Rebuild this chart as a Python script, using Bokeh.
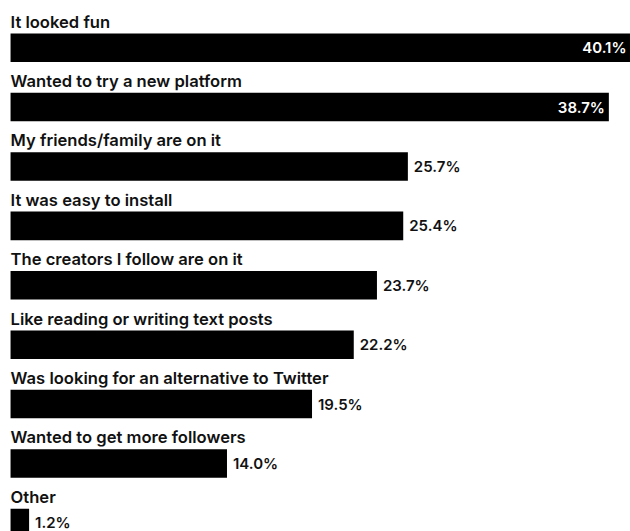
from bokeh.plotting import figure
from bokeh.models import ColumnDataSource, Range1d
from bokeh.core.properties import value
from bokeh.embed import file_html
from bokeh.resources import INLINE

categories = [
    "It looked fun",
    "Wanted to try a new platform",
    "My friends/family are on it",
    "It was easy to install",
    "The creators I follow are on it",
    "Like reading or writing text posts",
    "Was looking for an alternative to Twitter",
    "Wanted to get more followers",
    "Other",
]
values = [40.1, 38.7, 25.7, 25.4, 23.7, 22.2, 19.5, 14.0, 1.2]
value_labels = ["40.1%", "38.7%", "25.7%", "25.4%", "23.7%", "22.2%", "19.5%", "14.0%", "1.2%"]

rows = list(range(len(categories)))
inside = [v > 30 for v in values]

src = ColumnDataSource(dict(row=rows, cat=categories, val=values, lab=value_labels))
src_in = ColumnDataSource(dict(
    row=[r for r, f in zip(rows, inside) if f],
    val=[v for v, f in zip(values, inside) if f],
    lab=[l for l, f in zip(value_labels, inside) if f],
))
src_out = ColumnDataSource(dict(
    row=[r for r, f in zip(rows, inside) if not f],
    val=[v for v, f in zip(values, inside) if not f],
    lab=[l for l, f in zip(value_labels, inside) if not f],
))

p = figure(width=630, height=531, output_backend="svg", toolbar_location=None,
           x_range=Range1d(-0.65, 40.1), y_range=Range1d(start=8.145, end=-0.794),
           min_border=0, min_border_left=0, min_border_right=0,
           min_border_top=0, min_border_bottom=0)
p.axis.visible = False
p.grid.visible = False
p.outline_line_color = None
p.background_fill_color = "white"
p.border_fill_color = "white"

p.hbar(y="row", left=0, right="val", height=0.48, source=src,
       fill_color="black", line_color=None)

FONT = value("'Inter SemiBold', 'Inter Medium', Inter")
p.text(x=0, y="row", text="cat", source=src, text_font=FONT,
       text_font_size="16.6px", text_font_style="normal", text_color="#111111",
       text_baseline="alphabetic", text_align="left", y_offset=-26)

p.text(x="val", y="row", text="lab", source=src_in, text_font=FONT,
       text_font_size="15px", text_font_style="normal", text_color="white",
       text_baseline="middle", text_align="right", x_offset=-4)
p.text(x="val", y="row", text="lab", source=src_out, text_font=FONT,
       text_font_size="15px", text_font_style="normal", text_color="#111111",
       text_baseline="middle", text_align="left", x_offset=6)

open("out.html", "w").write(file_html(p, INLINE))
